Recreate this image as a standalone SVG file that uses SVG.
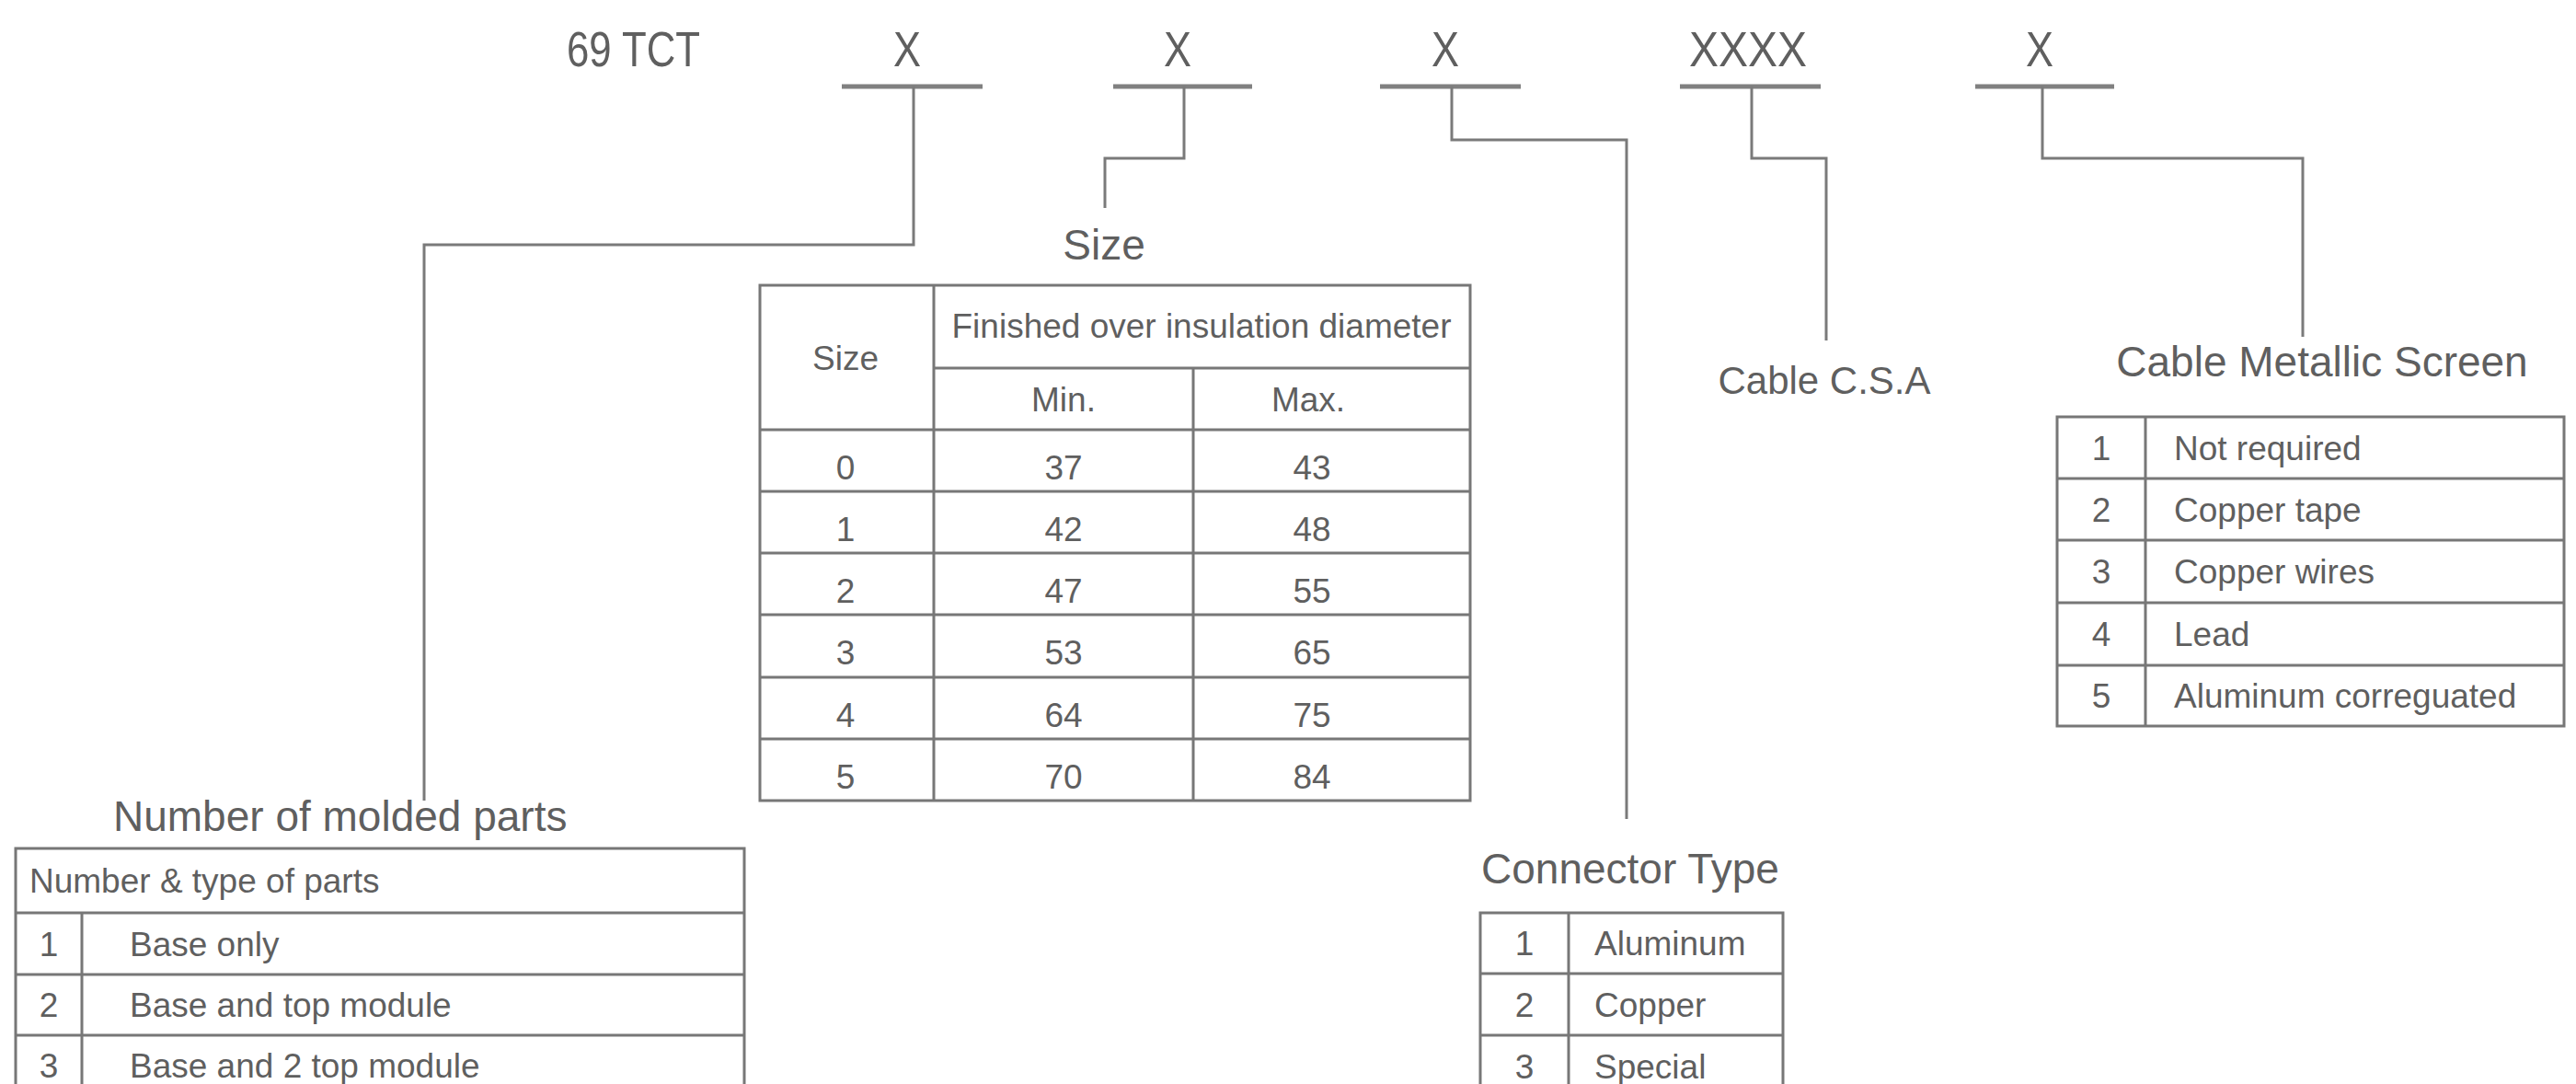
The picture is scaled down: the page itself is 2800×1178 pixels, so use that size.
<svg xmlns="http://www.w3.org/2000/svg" width="2800" height="1178" viewBox="0 0 2800 1178">
<style>
  .t { font-family: "Liberation Sans", Arial, sans-serif; fill: #5f5f5f; }
  .hd { font-size: 54px; }
  .ttl { font-size: 46px; }
  .sm { font-size: 42px; }
  .cell { font-size: 37px; }
  .c { text-anchor: middle; }
  .ln { fill: none; stroke: #7a7a7a; stroke-width: 3; }
  .ul { fill: none; stroke: #808080; stroke-width: 5; }
  .tb { fill: none; stroke: #777; stroke-width: 3; }
</style>
<rect width="2800" height="1178" fill="#ffffff"/>

<g id="code">
  <text class="t hd" x="616" y="72" textLength="145" lengthAdjust="spacingAndGlyphs">69 TCT</text>
  <text class="t hd c" x="986" y="72" textLength="30" lengthAdjust="spacingAndGlyphs">X</text>
  <text class="t hd c" x="1280" y="72" textLength="30" lengthAdjust="spacingAndGlyphs">X</text>
  <text class="t hd c" x="1571" y="72" textLength="30" lengthAdjust="spacingAndGlyphs">X</text>
  <text class="t hd c" x="1900" y="72" textLength="128" lengthAdjust="spacingAndGlyphs">XXXX</text>
  <text class="t hd c" x="2217" y="72" textLength="30" lengthAdjust="spacingAndGlyphs">X</text>
  <line class="ul" x1="915" y1="94" x2="1068" y2="94"/>
  <line class="ul" x1="1210" y1="94" x2="1361" y2="94"/>
  <line class="ul" x1="1500" y1="94" x2="1653" y2="94"/>
  <line class="ul" x1="1826" y1="94" x2="1979" y2="94"/>
  <line class="ul" x1="2147" y1="94" x2="2298" y2="94"/>
</g>

<g id="connectors">
  <path class="ln" d="M993,94 V266 H461 V870"/>
  <path class="ln" d="M1287,94 V172 H1201 V226"/>
  <path class="ln" d="M1578,94 V152 H1768 V890"/>
  <path class="ln" d="M1904,94 V172 H1985 V370"/>
  <path class="ln" d="M2220,94 V172 H2503 V366"/>
</g>

<g id="molded-parts">
  <text class="t ttl" x="123" y="903">Number of molded parts</text>
  <path class="tb" d="M17,1200 V922 H809 V1200 M17,992 H809 M17,1059 H809 M17,1125 H809 M89,992 V1200"/>
  <text class="t cell" x="32" y="970">Number &amp; type of parts</text>
  <text class="t cell c" x="53" y="1039">1</text>
  <text class="t cell" x="141" y="1039">Base only</text>
  <text class="t cell c" x="53" y="1105">2</text>
  <text class="t cell" x="141" y="1105">Base and top module</text>
  <text class="t cell c" x="53" y="1171">3</text>
  <text class="t cell" x="141" y="1171">Base and 2 top module</text>
</g>

<g id="size">
  <text class="t ttl c" x="1200" y="282" font-size="41">Size</text>
  <path class="tb" d="M826,310 H1598 V870 H826 Z M1015,310 V870 M1297,400 V870 M1015,400 H1598 M826,467 H1598 M826,534 H1598 M826,601 H1598 M826,668 H1598 M826,736 H1598 M826,803 H1598"/>
  <text class="t cell c" x="919" y="402">Size</text>
  <text class="t cell c" x="1306" y="367">Finished over insulation diameter</text>
  <text class="t cell c" x="1156" y="447">Min.</text>
  <text class="t cell c" x="1422" y="447">Max.</text>
  <text class="t cell c" x="919" y="521">0</text><text class="t cell c" x="1156" y="521">37</text><text class="t cell c" x="1426" y="521">43</text>
  <text class="t cell c" x="919" y="588">1</text><text class="t cell c" x="1156" y="588">42</text><text class="t cell c" x="1426" y="588">48</text>
  <text class="t cell c" x="919" y="655">2</text><text class="t cell c" x="1156" y="655">47</text><text class="t cell c" x="1426" y="655">55</text>
  <text class="t cell c" x="919" y="722">3</text><text class="t cell c" x="1156" y="722">53</text><text class="t cell c" x="1426" y="722">65</text>
  <text class="t cell c" x="919" y="790">4</text><text class="t cell c" x="1156" y="790">64</text><text class="t cell c" x="1426" y="790">75</text>
  <text class="t cell c" x="919" y="857">5</text><text class="t cell c" x="1156" y="857">70</text><text class="t cell c" x="1426" y="857">84</text>
</g>

<g id="connector-type">
  <text class="t ttl" x="1610" y="960">Connector Type</text>
  <path class="tb" d="M1609,1200 V992 H1938 V1200 M1609,1058 H1938 M1609,1125 H1938 M1705,992 V1200"/>
  <text class="t cell c" x="1657" y="1038">1</text>
  <text class="t cell" x="1733" y="1038">Aluminum</text>
  <text class="t cell c" x="1657" y="1105">2</text>
  <text class="t cell" x="1733" y="1105">Copper</text>
  <text class="t cell c" x="1657" y="1172">3</text>
  <text class="t cell" x="1733" y="1172">Special</text>
</g>

<g id="cable-csa">
  <text class="t sm c" x="1983" y="428" font-size="44">Cable C.S.A</text>
</g>

<g id="metallic-screen">
  <text class="t ttl c" x="2524" y="409">Cable Metallic Screen</text>
  <path class="tb" d="M2236,453 H2787 V789 H2236 Z M2332,453 V789 M2236,520 H2787 M2236,587 H2787 M2236,655 H2787 M2236,723 H2787"/>
  <text class="t cell c" x="2284" y="500">1</text><text class="t cell" x="2363" y="500">Not required</text>
  <text class="t cell c" x="2284" y="567">2</text><text class="t cell" x="2363" y="567">Copper tape</text>
  <text class="t cell c" x="2284" y="634">3</text><text class="t cell" x="2363" y="634">Copper wires</text>
  <text class="t cell c" x="2284" y="702">4</text><text class="t cell" x="2363" y="702">Lead</text>
  <text class="t cell c" x="2284" y="769">5</text><text class="t cell" x="2363" y="769">Aluminum correguated</text>
</g>
</svg>
